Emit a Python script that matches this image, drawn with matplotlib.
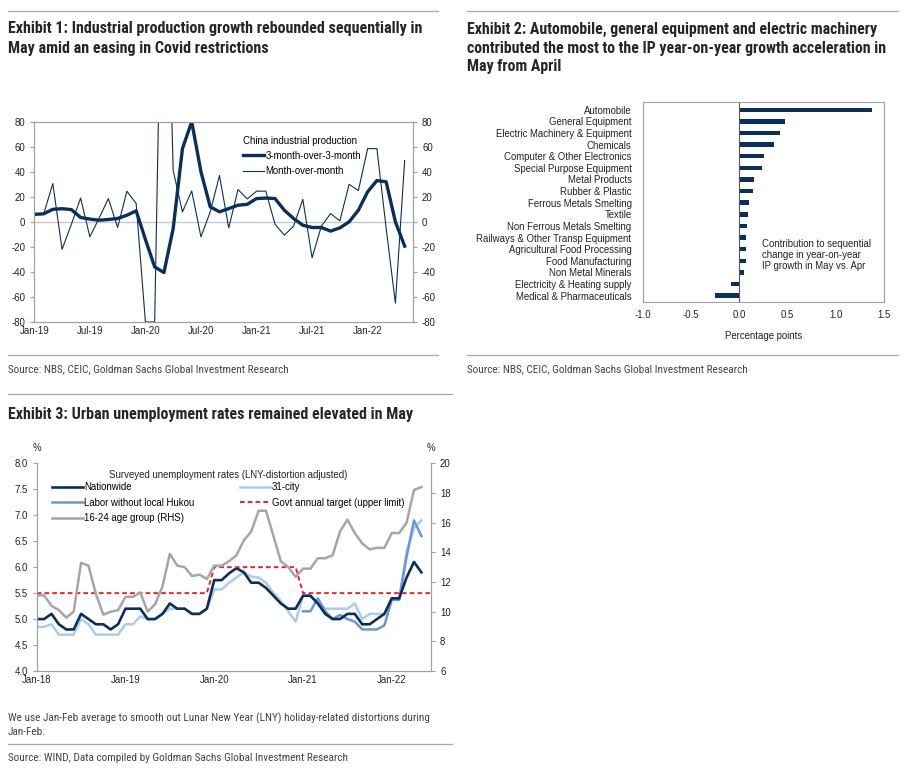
import numpy as np
import matplotlib.pyplot as plt
from matplotlib.lines import Line2D
from matplotlib import font_manager as fm

# ---- Exhibit 1: China IP, % saar, Jan-19 .. May-22
ip_months = list(range(41))
ip_ticks = [0, 6, 12, 18, 24, 30, 36]
ip_tick_labels = ['Jan-19', 'Jul-19', 'Jan-20', 'Jul-20', 'Jan-21', 'Jul-21', 'Jan-22']
ip_3m3m = [6, 6.4, 10, 10.5, 9.8, 3.5, 2.2, 1.3, 1.9, 2.7, 5.3, 8.8,
           -14, -36, -40.5, -5.3, 58.5, 80, 40, 12, 8, 10.6, 13.3, 14,
           18.6, 19, 18.6, 9.3, 2.7, -2.7, -4.5, -4.5, -7.4, -4.8, 0, 9.3,
           24, 33, 32, 0, -19.4]
ip_mom = [6, 6, 30.6, -22, -2, 19, -12, 3, 18.6, -4.5, 24.5, 14.6,
          -80, -80, 320, 41, 8, 24.7, -12, 8, 37, -4.8, 25.8, 18.3,
          24.5, 24.5, -1.9, -10.6, -3.5, 18, -28.7, -3.5, 6.6, 0.8, 30, 25,
          58.5, 58.5, -5, -65, 49]

# ---- Exhibit 2: contribution, percentage points
sectors = ['Automobile', 'General Equipment', 'Electric Machinery & Equipment',
           'Chemicals', 'Computer & Other Electronics', 'Special Purpose Equipment',
           'Metal Products', 'Rubber & Plastic', 'Ferrous Metals Smelting', 'Textile',
           'Non Ferrous Metals Smelting', 'Railways & Other Transp Equipment',
           'Agricultural Food Processing', 'Food Manufacturing', 'Non Metal Minerals',
           'Electricity & Heating supply', 'Medical & Pharmaceuticals']
contrib = [1.37, 0.47, 0.42, 0.36, 0.26, 0.23, 0.15, 0.14, 0.10, 0.086,
           0.079, 0.068, 0.068, 0.065, 0.048, -0.086, -0.257]

# ---- Exhibit 3: unemployment, %, Jan-18 .. May-22
ue_months = list(range(53))
ue_ticks = [0, 12, 24, 36, 48]
ue_tick_labels = ['Jan-18', 'Jan-19', 'Jan-20', 'Jan-21', 'Jan-22']
nationwide = [5.0, 5.0, 5.1, 4.9, 4.8, 4.8, 5.1, 5.0, 4.9, 4.9, 4.8, 4.9,
              5.2, 5.2, 5.2, 5.0, 5.0, 5.1, 5.3, 5.2, 5.2, 5.1, 5.1, 5.2,
              5.75, 5.75, 5.88, 5.98, 5.9, 5.7, 5.7, 5.6, 5.45, 5.3, 5.2, 5.2,
              5.45, 5.45, 5.3, 5.1, 5.0, 5.0, 5.1, 5.1, 4.9, 4.9, 5.0, 5.1,
              5.4, 5.4, 5.8, 6.1, 5.9]
city31 = [4.85, 4.85, 4.9, 4.7, 4.7, 4.7, 5.0, 4.9, 4.7, 4.7, 4.7, 4.7,
          4.9, 4.9, 5.05, 5.0, 5.0, 5.1, 5.2, 5.2, 5.2, 5.1, 5.1, 5.2,
          5.57, 5.57, 5.7, 5.8, 5.9, 5.82, 5.8, 5.7, 5.5, 5.35, 5.15, 4.95,
          5.45, 5.45, 5.3, 5.2, 5.2, 5.2, 5.2, 5.3, 5.0, 5.1, 5.1, 5.1,
          5.4, 5.4, 6.3, 6.75, 6.9]
hukou = [np.nan] * 36 + [5.15, 5.15, 5.4, 5.15, 5.0, 5.08, 5.0, 4.95, 4.8, 4.8, 4.8, 4.88,
                         5.37, 5.37, 6.2, 6.9, 6.6]
youth = [11.1, 11.1, 10.4, 10.1, 9.6, 10.0, 13.3, 13.1, 11.2, 9.8, 10.0, 10.1,
         11.0, 11.0, 11.3, 10.0, 10.5, 11.7, 13.9, 13.1, 13.0, 12.4, 12.5, 12.2,
         13.1, 13.1, 13.4, 13.8, 14.8, 15.4, 16.8, 16.8, 15.1, 13.4, 13.0, 12.35,
         12.9, 12.9, 13.6, 13.6, 13.8, 15.4, 16.2, 15.3, 14.6, 14.2, 14.3, 14.3,
         15.3, 15.3, 16.0, 18.2, 18.4]
target_months = list(range(55))
target = [5.5] * 24 + [6.0] * 12 + [5.5] * 19

NAVY = '#0c2f5a'
LIGHT = '#a9cdea'
MID = '#6b98cf'
GREY = '#a6a6a6'
RED = '#e3262b'
SPINE = '#a0a0a0'
TXT = '#222222'

# pick a condensed face for headings, like the house style
installed = {f.name for f in fm.fontManager.ttflist}
narrow_pref = ['Liberation Sans Narrow', 'Arial Narrow', 'Roboto Condensed', 'Archivo Narrow',
               'PT Sans Narrow', 'Fira Sans Condensed', 'IBM Plex Sans Condensed',
               'Open Sans Condensed', 'Barlow Semi Condensed', 'Encode Sans Condensed',
               'Asap Condensed', 'Sofia Sans Condensed']
NARROW = next((n for n in narrow_pref if n in installed), 'Liberation Sans')
TITLE_FONT = [NARROW, 'Liberation Sans', 'DejaVu Sans']

W, H = 907, 773
plt.rcParams['font.family'] = ['Liberation Sans', 'DejaVu Sans']
plt.rcParams['axes.unicode_minus'] = False
fig = plt.figure(figsize=(W / 100, H / 100), dpi=100)
renderer = fig.canvas.get_renderer()
FS = 6.9


def box(l, t, r, b):
    return [l / W, 1 - b / H, (r - l) / W, (b - t) / H]


def ftext(x, y, s, **kw):
    return fig.text(x / W, 1 - y / H, s, va='center', **kw)


def fit(texts, width_px):
    # scale font so the first line spans the width seen in the reference
    w = texts[0].get_window_extent(renderer).width
    size = texts[0].get_fontsize() * width_px / w
    for t in texts:
        t.set_fontsize(size)


def hline(x0, x1, y):
    fig.add_artist(Line2D([x0 / W, x1 / W], [1 - y / H, 1 - y / H],
                          color='#a8a8a8', lw=0.9))


def style(ax):
    for s in ax.spines.values():
        s.set_color(SPINE)
        s.set_linewidth(0.8)
    ax.tick_params(colors=SPINE, labelcolor=TXT, labelsize=FS, length=3, width=0.8)


tkw = dict(family=TITLE_FONT, weight='bold', size=11, color='#262626')
skw = dict(family=TITLE_FONT, size=8, color='#444444')

# ---- headers, separators, sources
hline(8, 438, 10.7)
hline(467, 898, 10.7)
t1 = [ftext(8, 29, 'Exhibit 1: Industrial production growth rebounded sequentially in', **tkw),
      ftext(8, 48, 'May amid an easing in Covid restrictions', **tkw)]
fit(t1, 413)
t2 = [ftext(467, 48, 'contributed the most to the IP year-on-year growth acceleration in', **tkw),
      ftext(467, 29, 'Exhibit 2: Automobile, general equipment and electric machinery', **tkw),
      ftext(467, 67, 'May from April', **tkw)]
fit(t2, 421)
hline(8, 438, 355)
hline(467, 898, 355)
fit([ftext(8, 369, 'Source: NBS, CEIC, Goldman Sachs Global Investment Research', **skw)], 281)
fit([ftext(467, 369, 'Source: NBS, CEIC, Goldman Sachs Global Investment Research', **skw)], 281)
hline(8, 452, 394)
fit([ftext(8, 414, 'Exhibit 3: Urban unemployment rates remained elevated in May', **tkw)], 403)
n3 = [ftext(8, 718, 'We use Jan-Feb average to smooth out Lunar New Year (LNY) holiday-related distortions during', **skw),
      ftext(8, 732, 'Jan-Feb.', **skw)]
fit(n3, 422)
hline(8, 452, 744)
fit([ftext(8, 758, 'Source: WIND, Data compiled by Goldman Sachs Global Investment Research', **skw)], 343)

# ---- Exhibit 1
ax1 = fig.add_axes(box(34.3, 121.7, 413, 322))
style(ax1)
ax1.axhline(0, color='#c8c8c8', lw=1.0, zorder=1)
ax1.plot(ip_months, ip_3m3m, color=NAVY, lw=2.4, label='3-month-over-3-month',
         solid_joinstyle='round')
ax1.plot(ip_months, ip_mom, color=NAVY, lw=0.8, label='Month-over-month')
ax1.set_xlim(0, 40.9)
ax1.set_ylim(-80, 80)
ax1.set_yticks(range(-80, 81, 20))
ax1.set_xticks(ip_ticks)
ax1.set_xticklabels(ip_tick_labels)
ax1.tick_params(axis='x', length=0, pad=3)
ax1r = ax1.twinx()
style(ax1r)
ax1r.set_ylim(-80, 80)
ax1r.set_yticks(range(-80, 81, 20))
ax1.legend(loc='upper left', bbox_to_anchor=((243 - 34.3) / 378.7, 1 - (135.5 - 121.7) / 200.3),
           frameon=False, fontsize=FS, title='China industrial production',
           title_fontsize=FS, alignment='left', handlelength=2.2, handletextpad=0.15,
           labelspacing=0.55, borderpad=0, borderaxespad=0)

# ---- Exhibit 2
ax2 = fig.add_axes(box(642.7, 102.3, 884.3, 301.7))
style(ax2)
ypos = np.arange(len(sectors))
ax2.barh(ypos, contrib, height=0.38, color=NAVY)
ax2.axvline(0, color='#555555', lw=0.8)
ax2.set_xlim(-1.0, 1.5)
ax2.set_ylim(16.52, -0.64)
ax2.set_xticks([-1.0, -0.5, 0.0, 0.5, 1.0, 1.5])
ax2.set_xticklabels(['-1.0', '-0.5', '0.0', '0.5', '1.0', '1.5'])
ax2.set_yticks(ypos)
ax2.set_yticklabels(sectors)
ax2.tick_params(axis='y', length=0, pad=8)
ax2.tick_params(axis='x', length=0, pad=6)
ax2.set_xlabel('Percentage points', fontsize=FS, color=TXT, labelpad=8)
ax2.text(0.494, 0.312, 'Contribution to sequential\nchange in year-on-year\nIP growth in May vs. Apr',
         transform=ax2.transAxes, fontsize=FS, color=TXT, va='top', linespacing=1.1)

# ---- Exhibit 3
ax3 = fig.add_axes(box(36.7, 463.3, 431, 671))
style(ax3)
ax3.spines['top'].set_visible(False)
ax3.plot(ue_months, city31, color=LIGHT, lw=1.8)
ax3.plot(ue_months, hukou, color=MID, lw=1.8)
ax3.plot(ue_months, nationwide, color=NAVY, lw=1.9)
ax3.plot(target_months, target, color=RED, lw=1.4, ls=(0, (2.4, 1.6)))
ax3.set_xlim(0, 53.3)
ax3.set_ylim(4.0, 8.0)
ax3.set_yticks(np.arange(4.0, 8.01, 0.5))
ax3.set_yticklabels([f'{v:.1f}' for v in np.arange(4.0, 8.01, 0.5)])
ax3.set_xticks(ue_ticks)
ax3.set_xticklabels(ue_tick_labels)
ax3.tick_params(axis='x', length=0, pad=3)
ax3r = ax3.twinx()
style(ax3r)
ax3r.spines['top'].set_visible(False)
ax3r.plot(ue_months, youth, color=GREY, lw=1.8)
ax3r.set_ylim(6, 20)
ax3r.set_yticks(range(6, 21, 2))
ax3.text(0, 1.06, '%', transform=ax3.transAxes, fontsize=FS, color=TXT, ha='center')
ax3.text(1, 1.06, '%', transform=ax3.transAxes, fontsize=FS, color=TXT, ha='center')

ax3r.text(0.485, 0.943, 'Surveyed unemployment rates (LNY-distortion adjusted)',
          transform=ax3r.transAxes, fontsize=FS, color=TXT, ha='center', va='center')
col1 = [Line2D([], [], color=NAVY, lw=1.9), Line2D([], [], color=MID, lw=1.8),
        Line2D([], [], color=GREY, lw=1.8)]
col2 = [Line2D([], [], color=LIGHT, lw=1.8), Line2D([], [], color=RED, lw=1.4, ls=(0, (2.4, 1.6)))]
leg_kw = dict(frameon=False, fontsize=FS, handlelength=3.2, handletextpad=0.15,
              labelspacing=0.55, borderpad=0, borderaxespad=0, loc='upper left')
lg1 = ax3r.legend(col1, ['Nationwide', 'Labor without local Hukou', '16-24 age group (RHS)'],
                  bbox_to_anchor=((52 - 36.7) / 394.3, 1 - (482.5 - 463.3) / 207.7), **leg_kw)
ax3r.add_artist(lg1)
ax3r.legend(col2, ['31-city', 'Govt annual target (upper limit)'],
            bbox_to_anchor=((240 - 36.7) / 394.3, 1 - (482.5 - 463.3) / 207.7), **leg_kw)

fig.savefig('out.png', dpi=100)
